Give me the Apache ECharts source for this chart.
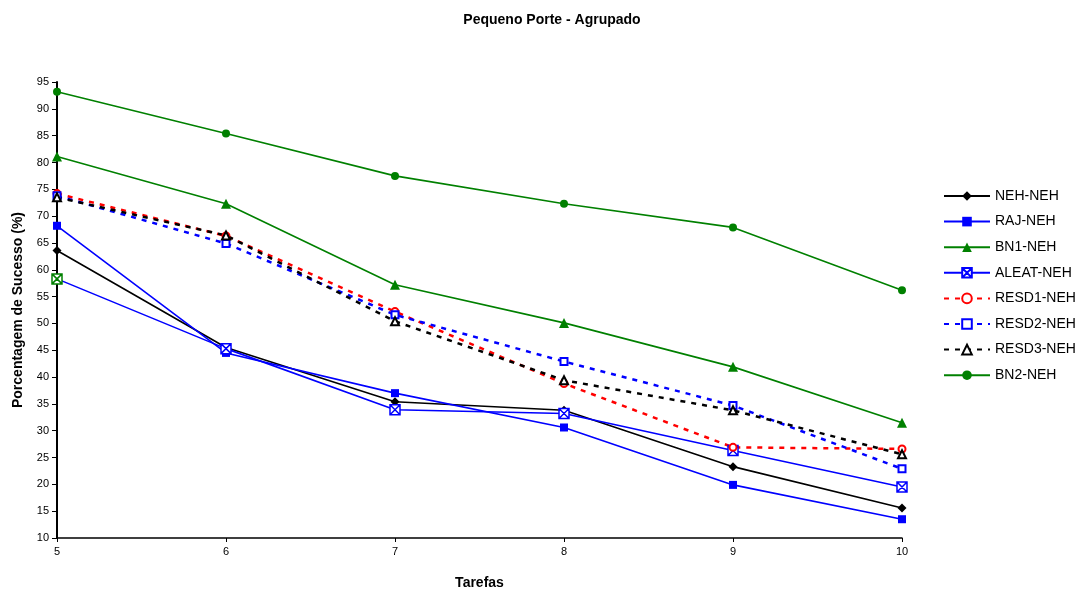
<!DOCTYPE html>
<html>
<head>
<meta charset="utf-8">
<script src="https://cdn.jsdelivr.net/npm/echarts@6/dist/echarts.min.js"></script>
<style>
  html, body { margin: 0; padding: 0; background: #fff; }
  #chart { width: 1092px; height: 597px; }
</style>
</head>
<body>
<div id="chart"></div>
<script>
// tarefas no eixo x
var tarefas = [5, 6, 7, 8, 9, 10];

// valores (%)
var nehNeh   = [63.6, 45.5, 35.4, 33.8, 23.3, 15.6];
var rajNeh   = [68.2, 44.5, 37.0, 30.6, 19.9, 13.5];
var bn1Neh   = [81.1, 72.3, 57.2, 50.1, 41.9, 31.5];
var aleatNeh = [58.3, 45.3, 33.9, 33.2, 26.3, 19.5];
var resd1Neh = [74.2, 66.3, 52.2, 38.8, 26.9, 26.6];
var resd2Neh = [73.8, 64.9, 51.6, 42.9, 34.7, 22.9];
var resd3Neh = [73.5, 66.4, 50.4, 39.4, 33.8, 25.6];
var bn2Neh   = [93.2, 85.4, 77.5, 72.3, 67.9, 56.2];

var yTicks = {min: 10, max: 95, step: 5};

function pares(vals) {
  return tarefas.map(function (t, i) { return [t, vals[i]]; });
}

var boxX = 'path://M0,0L10,0L10,10L0,10ZM0,0L10,10M10,0L0,10';

function serie(nome, vals, cor, simbolo, tam, tracejado, cheio) {
  var s = {
    name: nome,
    type: 'line',
    data: pares(vals),
    symbol: simbolo,
    symbolSize: tam,
    showSymbol: true,
    lineStyle: {
      color: cor,
      width: tracejado ? 2.5 : 1.6,
      type: tracejado ? [5, 6] : 'solid'
    },
    itemStyle: { color: cor },
    emphasis: { disabled: true },
    animation: false
  };
  if (!cheio) {
    s.itemStyle = { color: cor, borderColor: cor, borderWidth: 1.5 };
  }
  return s;
}

var chart = echarts.init(document.getElementById('chart'));

var series = [
  serie('NEH-NEH', nehNeh, '#000000', 'diamond', 9, false, true),
  serie('RAJ-NEH', rajNeh, '#0000ff', 'rect', 8, false, true),
  serie('BN1-NEH', bn1Neh, '#008000', 'triangle', 10, false, true),
  serie('ALEAT-NEH', aleatNeh, '#0000ff', boxX, 10, false, false),
  serie('RESD1-NEH', resd1Neh, '#ff0000', 'emptyCircle', 7, true, false),
  serie('RESD2-NEH', resd2Neh, '#0000ff', 'emptyRect', 7, true, false),
  serie('RESD3-NEH', resd3Neh, '#000000', 'emptyTriangle', 8, true, false),
  serie('BN2-NEH', bn2Neh, '#008000', 'circle', 8, false, true)
];
// ALEAT: quadrado vazado com X
series[3].itemStyle = { color: '#fff', borderColor: '#0000ff', borderWidth: 1.5 };
// o primeiro marcador de ALEAT aparece com borda verde no original
series[3].data[0] = { value: series[3].data[0], itemStyle: { borderColor: '#008000' } };

var option = {
  backgroundColor: '#fff',
  textStyle: { fontFamily: 'Liberation Sans, Arial, sans-serif' },
  title: {
    text: 'Pequeno Porte - Agrupado',
    left: 547,
    top: 8,
    textAlign: 'center',
    textStyle: { fontSize: 14, fontWeight: 'bold', color: '#000' }
  },
  legend: {
    orient: 'vertical',
    left: 938,
    top: 184,
    itemWidth: 46,
    itemHeight: 12,
    itemGap: 11.6,
    textStyle: { fontSize: 14, color: '#000' },
    data: series.map(function (s) { return s.name; })
  },
  grid: { left: 57, top: 82, width: 845, height: 456, containLabel: false },
  xAxis: {
    type: 'value',
    min: 5,
    max: 10,
    interval: 1,
    name: 'Tarefas',
    nameLocation: 'middle',
    nameGap: 38,
    nameTextStyle: { fontSize: 14, fontWeight: 'bold', color: '#000' },
    axisLine: { onZero: false, lineStyle: { color: '#000', width: 1.5 } },
    axisTick: { show: true, length: 4, lineStyle: { color: '#000' } },
    axisLabel: { fontSize: 11, color: '#000', margin: 8 },
    splitLine: { show: false }
  },
  yAxis: {
    type: 'value',
    min: yTicks.min,
    max: yTicks.max,
    interval: yTicks.step,
    name: 'Porcentagem de Sucesso (%)',
    nameLocation: 'middle',
    nameGap: 32,
    nameTextStyle: { fontSize: 14, fontWeight: 'bold', color: '#000' },
    axisLine: { show: true, lineStyle: { color: '#000', width: 2 } },
    axisTick: { show: true, length: 5, lineStyle: { color: '#000' } },
    axisLabel: { fontSize: 11, color: '#000', margin: 8 },
    splitLine: { show: false }
  },
  series: series
};

chart.setOption(option);
</script>
</body>
</html>
